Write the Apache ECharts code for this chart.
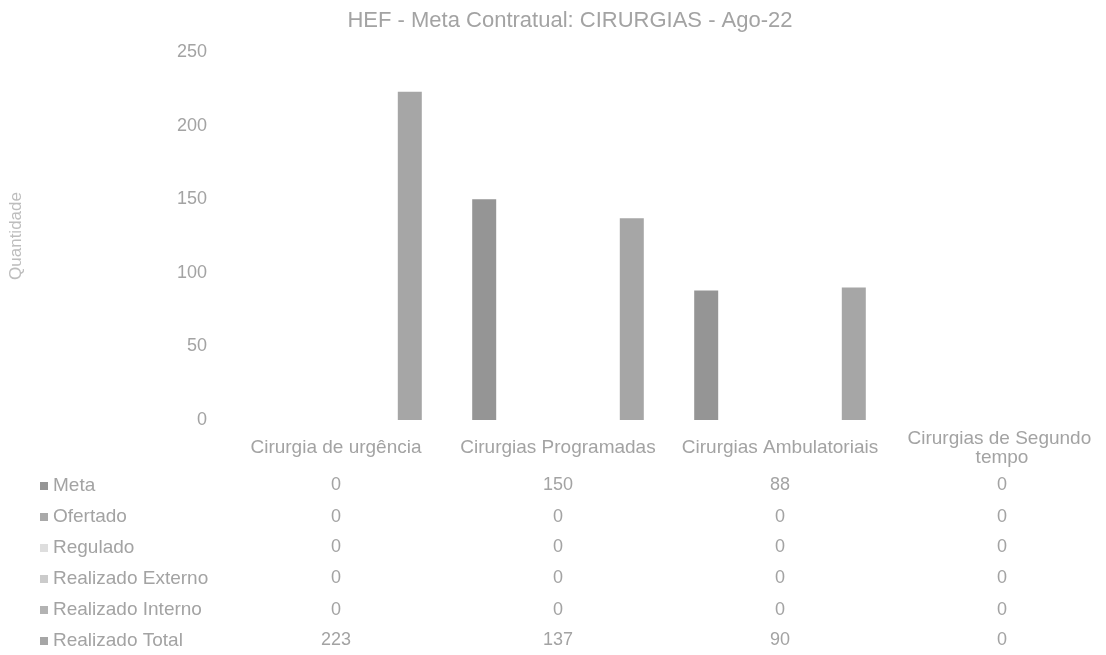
<!DOCTYPE html>
<html>
<head>
<meta charset="utf-8">
<title>HEF - Meta Contratual: CIRURGIAS - Ago-22</title>
<script src="https://cdn.jsdelivr.net/npm/echarts@6/dist/echarts.min.js"></script>
<style>
    html, body { margin: 0; padding: 0; background: #fff; }
    #main { width: 1106px; height: 655px; }
</style>
</head>
<body>
<div id="main"></div>
<script>
// dados
var categorias = ['Cirurgia de urgência', 'Cirurgias Programadas', 'Cirurgias Ambulatoriais', 'Cirurgias de Segundo tempo']
var meta = [0, 150, 88, 0]
var ofertado = [0, 0, 0, 0]
var regulado = [0, 0, 0, 0]
var realizadoExterno = [0, 0, 0, 0]
var realizadoInterno = [0, 0, 0, 0]
var realizadoTotal = [223, 137, 90, 0]
var yTicks = [0, 50, 100, 150, 200, 250]

var linhas = [
    { name: 'Meta', data: meta, color: '#959595' },
    { name: 'Ofertado', data: ofertado, color: '#a9a9a9' },
    { name: 'Regulado', data: regulado, color: '#dedede' },
    { name: 'Realizado Externo', data: realizadoExterno, color: '#cbcbcb' },
    { name: 'Realizado Interno', data: realizadoInterno, color: '#b3b3b3' },
    { name: 'Realizado Total', data: realizadoTotal, color: '#a6a6a6' }
]

var textColor = '#a3a3a3'
var fonte = 'Liberation Sans, Arial, sans-serif'

var chartDom = document.getElementById('main')
var myChart = echarts.init(chartDom)

// eixo principal (nomes das categorias)
var xAxes = [{
    type: 'category',
    data: categorias,
    axisLine: { show: false },
    axisTick: { show: false },
    axisLabel: {
        interval: 0,
        color: textColor,
        fontFamily: fonte,
        fontSize: 19,
        width: 205,
        overflow: 'break',
        verticalAlign: 'middle',
        lineHeight: 19,
        margin: 28
    }
}]

// uma linha da tabela de dados por série
var rowY = [485, 517, 547, 578, 610, 640]
linhas.forEach(function (linha, i) {
    xAxes.push({
        type: 'category',
        data: categorias,
        position: 'bottom',
        axisLine: { show: false },
        axisTick: { show: false },
        axisLabel: {
            interval: 0,
            color: textColor,
            fontFamily: fonte,
            fontSize: 18,
            verticalAlign: 'middle',
            margin: rowY[i] - 420,
            formatter: function (value, idx) {
                return String(linha.data[idx])
            }
        }
    })
})

var option = {
    animation: false,
    backgroundColor: '#ffffff',
    title: {
        text: 'HEF - Meta Contratual: CIRURGIAS - Ago-22',
        left: 565,
        textAlign: 'center',
        top: 5,
        textStyle: {
            color: textColor,
            fontFamily: fonte,
            fontSize: 22,
            fontWeight: 'normal'
        }
    },
    legend: {
        orient: 'vertical',
        left: 40,
        top: 476,
        padding: 0,
        icon: 'rect',
        itemWidth: 8,
        itemHeight: 8,
        itemGap: 11,
        textStyle: {
            color: textColor,
            fontFamily: fonte,
            fontSize: 19,
            lineHeight: 20
        },
        data: linhas.map(function (l) { return l.name })
    },
    grid: {
        left: 225,
        right: -7,
        top: 52,
        bottom: 235,
        outerBoundsMode: 'none'
    },
    xAxis: xAxes,
    yAxis: {
        type: 'value',
        min: yTicks[0],
        max: yTicks[yTicks.length - 1],
        interval: yTicks[1] - yTicks[0],
        name: 'Quantidade',
        nameLocation: 'middle',
        nameRotate: 90,
        nameGap: 200,
        nameTextStyle: {
            color: '#bdbdbd',
            fontFamily: fonte,
            fontSize: 17
        },
        axisLine: { show: false },
        axisTick: { show: false },
        splitLine: { show: false },
        axisLabel: {
            color: textColor,
            fontFamily: fonte,
            fontSize: 18,
            margin: 18
        }
    },
    series: linhas.map(function (l) {
        return {
            name: l.name,
            type: 'bar',
            data: l.data,
            barWidth: 24,
            barGap: '23%',
            itemStyle: { color: l.color }
        }
    })
}

option && myChart.setOption(option)
</script>
</body>
</html>
